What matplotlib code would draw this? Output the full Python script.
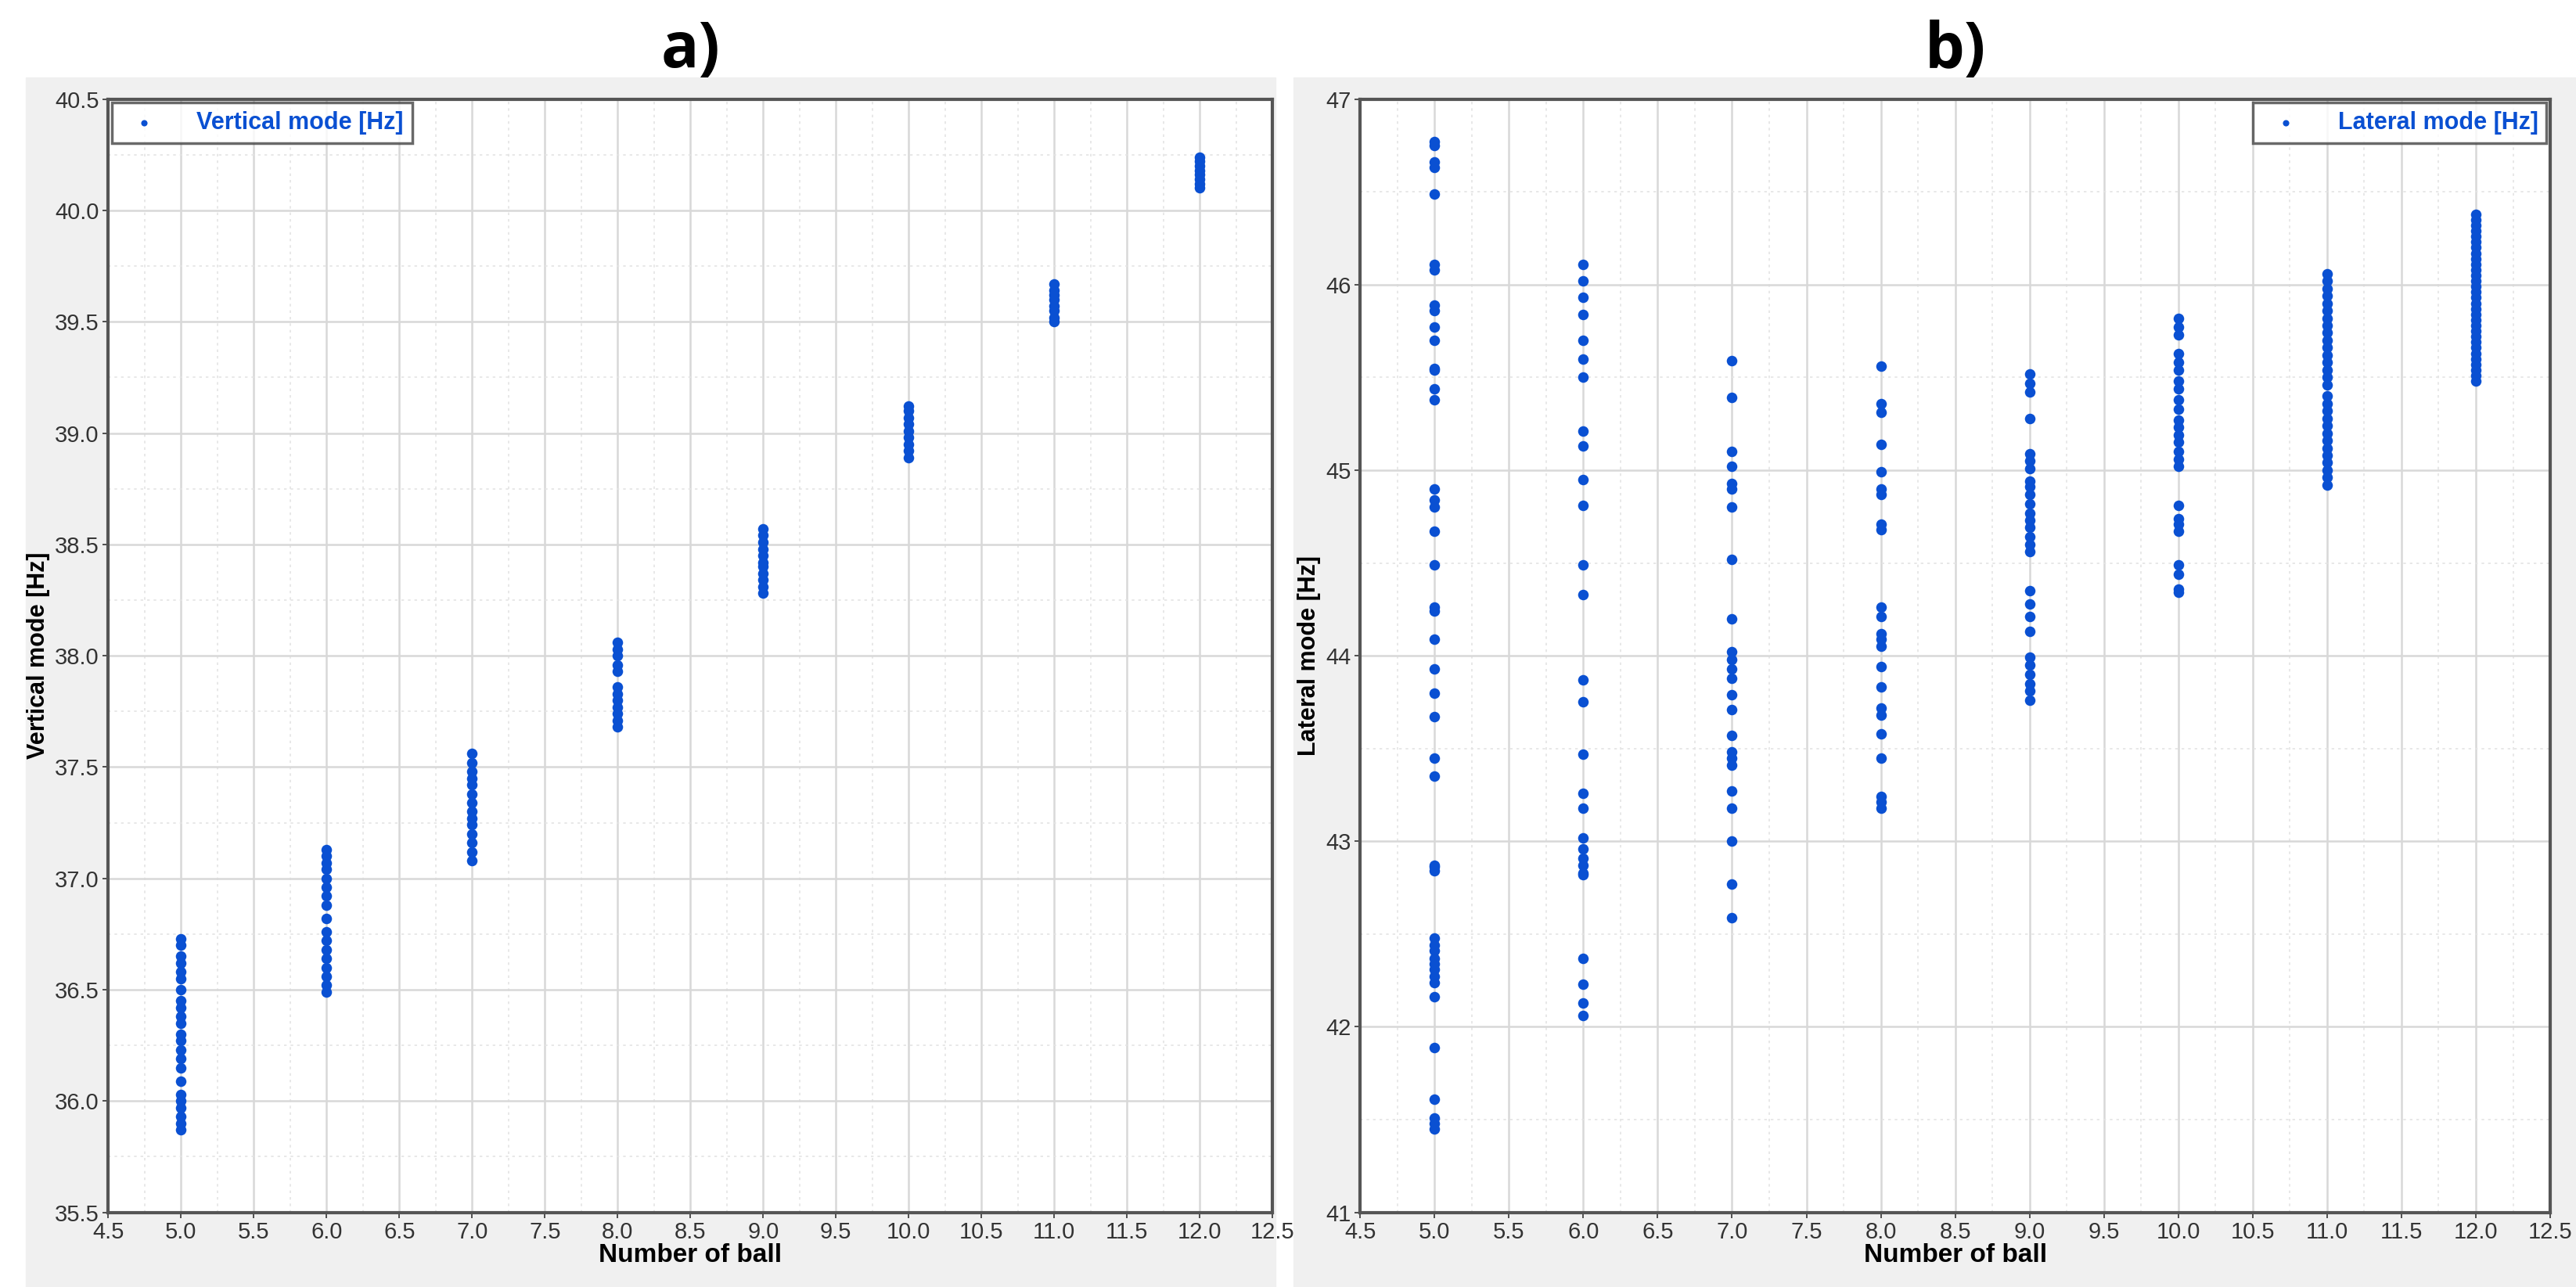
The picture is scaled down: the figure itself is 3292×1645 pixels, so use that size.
import matplotlib.pyplot as plt
from matplotlib.patches import Rectangle
from matplotlib.ticker import MultipleLocator

plt.rcParams['font.family'] = ['Liberation Sans', 'DejaVu Sans']

# vertical mode [Hz] per number of balls
v5 = [36.73, 36.70, 36.65, 36.62, 36.58, 36.55, 36.50, 36.45, 36.42, 36.38, 36.35, 36.30,
      36.27, 36.23, 36.19, 36.15, 36.09, 36.03, 36.00, 35.97, 35.93, 35.90, 35.87]
v6 = [37.13, 37.10, 37.07, 37.04, 37.00, 36.96, 36.92, 36.88, 36.82, 36.76, 36.72, 36.68,
      36.64, 36.60, 36.56, 36.52, 36.49]
v7 = [37.56, 37.52, 37.48, 37.45, 37.42, 37.38, 37.34, 37.30, 37.27, 37.24, 37.20, 37.16,
      37.12, 37.08]
v8 = [38.06, 38.03, 38.00, 37.96, 37.93, 37.86, 37.83, 37.80, 37.77, 37.74, 37.71, 37.68]
v9 = [38.57, 38.54, 38.51, 38.48, 38.45, 38.42, 38.40, 38.37, 38.34, 38.31, 38.28]
v10 = [39.12, 39.10, 39.07, 39.04, 39.01, 38.98, 38.95, 38.92, 38.89]
v11 = [39.67, 39.64, 39.62, 39.60, 39.57, 39.55, 39.52, 39.50]
v12 = [40.24, 40.22, 40.20, 40.18, 40.16, 40.14, 40.12, 40.10]
vertical = {5: v5, 6: v6, 7: v7, 8: v8, 9: v9, 10: v10, 11: v11, 12: v12}

# lateral mode [Hz] per number of balls
l5 = [46.77, 46.75, 46.66, 46.63, 46.49, 46.11, 46.08, 45.89, 45.86, 45.77, 45.70, 45.55,
      45.54, 45.44, 45.38, 44.90, 44.84, 44.80, 44.67, 44.49, 44.26, 44.24, 44.09, 43.93,
      43.80, 43.67, 43.45, 43.35, 42.87, 42.86, 42.84, 42.48, 42.44, 42.41, 42.37, 42.34,
      42.31, 42.27, 42.24, 42.16, 41.89, 41.61, 41.51, 41.48, 41.45]
l6 = [46.11, 46.02, 45.93, 45.84, 45.70, 45.60, 45.50, 45.21, 45.13, 44.95, 44.81, 44.49,
      44.33, 43.87, 43.75, 43.47, 43.26, 43.18, 43.02, 42.96, 42.91, 42.87, 42.83, 42.82,
      42.37, 42.23, 42.13, 42.06]
l7 = [45.59, 45.39, 45.10, 45.02, 44.93, 44.90, 44.80, 44.52, 44.20, 44.02, 43.98, 43.93,
      43.88, 43.79, 43.71, 43.57, 43.48, 43.45, 43.41, 43.27, 43.18, 43.00, 42.77, 42.59]
l8 = [45.56, 45.36, 45.31, 45.14, 44.99, 44.90, 44.87, 44.71, 44.68, 44.26, 44.21, 44.12,
      44.09, 44.05, 43.94, 43.83, 43.72, 43.68, 43.58, 43.45, 43.24, 43.21, 43.18]
l9 = [45.52, 45.47, 45.42, 45.28, 45.09, 45.05, 45.01, 44.94, 44.91, 44.87, 44.82, 44.77,
      44.73, 44.69, 44.64, 44.60, 44.56, 44.35, 44.28, 44.21, 44.13, 43.99, 43.95, 43.90,
      43.85, 43.81, 43.76]
l10 = [45.82, 45.77, 45.73, 45.63, 45.58, 45.54, 45.48, 45.44, 45.38, 45.33, 45.27, 45.23,
       45.19, 45.15, 45.10, 45.06, 45.02, 44.81, 44.74, 44.71, 44.67, 44.49, 44.44, 44.36,
       44.34]
l11 = [46.06, 46.02, 45.98, 45.94, 45.90, 45.86, 45.82, 45.78, 45.74, 45.70, 45.66, 45.62,
       45.58, 45.54, 45.50, 45.46, 45.40, 45.36, 45.32, 45.28, 45.24, 45.20, 45.16, 45.12,
       45.08, 45.04, 45.00, 44.96, 44.92]
l12 = [46.38, 46.35, 46.32, 46.29, 46.26, 46.23, 46.20, 46.17, 46.14, 46.11, 46.08, 46.05,
       46.02, 45.99, 45.96, 45.93, 45.90, 45.87, 45.84, 45.81, 45.78, 45.75, 45.72, 45.69,
       45.66, 45.63, 45.60, 45.57, 45.54, 45.51, 45.48]
lateral = {5: l5, 6: l6, 7: l7, 8: l8, 9: l9, 10: l10, 11: l11, 12: l12}

BLUE = '#0a50d2'

fig = plt.figure(figsize=(32.92, 16.45), dpi=100)
fig.patches.append(Rectangle((0.01, 0), 0.485, 0.94, transform=fig.transFigure,
                             color='#f0f0f0', zorder=-10))
fig.patches.append(Rectangle((0.502, 0), 0.498, 0.94, transform=fig.transFigure,
                             color='#f0f0f0', zorder=-10))


def make_panel(rect, data, ylim, ymaj, ymin, ylabel, legend_label, legend_loc, title, yfmt):
    ax = fig.add_axes(rect)
    xs, ys = [], []
    for k, vals in data.items():
        xs += [k] * len(vals)
        ys += vals
    ax.scatter(xs, ys, s=95, color=BLUE, zorder=3, label=legend_label, linewidths=0)
    ax.set_xlim(4.5, 12.5)
    ax.set_ylim(*ylim)
    ax.xaxis.set_major_locator(MultipleLocator(0.5))
    ax.xaxis.set_minor_locator(MultipleLocator(0.25))
    ax.yaxis.set_major_locator(MultipleLocator(ymaj))
    ax.yaxis.set_minor_locator(MultipleLocator(ymin))
    ax.xaxis.set_major_formatter('{x:.1f}')
    ax.yaxis.set_major_formatter(yfmt)
    ax.grid(which='major', color='#d8d8d8', lw=1.8)
    ax.grid(which='minor', color='#e4e4e4', lw=1.2, ls=(0, (2, 3)))
    ax.set_axisbelow(True)
    ax.tick_params(which='major', labelsize=21, length=5, width=1.2, colors='#333333',
                   labelcolor='#333333')
    ax.tick_params(which='minor', length=0)
    for sp in ax.spines.values():
        sp.set_color('#555555')
        sp.set_linewidth(3)
    ax.set_xlabel('Number of ball', fontsize=24, fontweight='bold', labelpad=0)
    ax.set_ylabel(ylabel, fontsize=22, fontweight='bold', labelpad=4)
    leg = ax.legend(loc=legend_loc, fontsize=22, markerscale=0.6, fancybox=False,
                    borderaxespad=0.15, handletextpad=1.2, borderpad=0.35)
    leg.get_frame().set_edgecolor('#444444')
    leg.get_frame().set_linewidth(2.5)
    for t in leg.get_texts():
        t.set_color(BLUE)
        t.set_fontweight('bold')
    fig.text(rect[0] + rect[2] / 2, 0.985, title, ha='center', va='top', fontsize=58,
             fontweight='bold', family=['Open Sans', 'DejaVu Sans'])
    return ax


make_panel([0.042, 0.058, 0.452, 0.865], vertical, (35.5, 40.5), 0.5, 0.25,
           'Vertical mode [Hz]', 'Vertical mode [Hz]', 'upper left', 'a)', '{x:.1f}')
make_panel([0.528, 0.058, 0.462, 0.865], lateral, (41, 47), 1, 0.5,
           'Lateral mode [Hz]', 'Lateral mode [Hz]', 'upper right', 'b)', '{x:.0f}')

fig.savefig('out.png', dpi=100)
